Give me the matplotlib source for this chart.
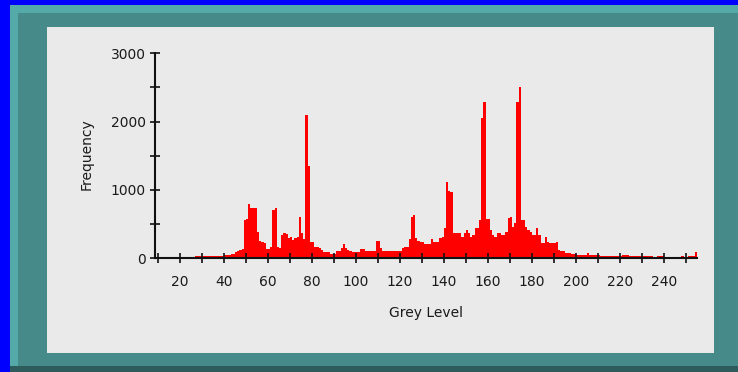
import matplotlib
matplotlib.use("Agg")
import matplotlib.pyplot as plt
from matplotlib.patches import Rectangle
import numpy as np

# grey levels 26..254 and their pixel counts
levels = np.arange(26, 255)
counts = [
    25, 30, 30, 30, 30, 32, 32, 34, 34, 35,
    36, 38, 40, 40, 42, 45, 55, 60, 62, 95,
    100, 125, 130, 560, 580, 800, 730, 740, 730, 390,
    250, 240, 220, 140, 130, 170, 700, 730, 170, 145,
    340, 365, 360, 300, 310, 270, 300, 310, 610, 365,
    280, 2100, 1350, 245, 240, 170, 165, 145, 120, 90,
    88, 88, 65, 63, 65, 100, 100, 145, 210, 150,
    120, 100, 88, 88, 88, 90, 137, 130, 100, 100,
    100, 100, 110, 260, 260, 145, 112, 112, 112, 112,
    112, 112, 112, 112, 112, 145, 170, 170, 280, 600,
    630, 290, 260, 235, 235, 205, 205, 205, 280, 245,
    245, 245, 300, 310, 440, 1120, 980, 970, 365, 365,
    365, 365, 317, 365, 415, 365, 317, 340, 440, 440,
    560, 2050, 2290, 570, 570, 415, 340, 317, 365, 365,
    340, 340, 390, 585, 600, 460, 510, 2290, 2510, 560,
    560, 460, 415, 380, 340, 340, 440, 340, 220, 220,
    317, 245, 220, 220, 220, 245, 122, 100, 100, 73,
    73, 73, 63, 63, 49, 49, 49, 49, 49, 73,
    44, 44, 44, 44, 44, 40, 40, 40, 40, 40,
    40, 40, 40, 40, 40, 55, 55, 55, 35, 35,
    35, 35, 35, 35, 35, 35, 35, 35, 35, 0,
    0, 30, 30, 30, 0, 0, 0, 0, 25, 0,
    0, 0, 30, 0, 0, 30, 30, 30, 85,
]
x_major = [20, 40, 60, 80, 100, 120, 140, 160, 180, 200, 220, 240]
x_minor = [10, 30, 50, 70, 90, 110, 130, 150, 170, 190, 210, 230, 250]
y_major = [0, 1000, 2000, 3000]
y_minor = [500, 1500, 2500]

W, H = 738, 372
fig = plt.figure(figsize=(W / 100, H / 100), dpi=100, facecolor="#0000FF")

def px_rect(x0, y0, x1, y1, color):
    # rectangle given in pixel coords (top-left origin)
    fig.add_artist(Rectangle((x0 / W, 1 - y1 / H), (x1 - x0) / W, (y1 - y0) / H,
                             transform=fig.transFigure, facecolor=color,
                             edgecolor="none", zorder=0))

# frame
px_rect(10, 5, 738, 372, "#54A9A9")
px_rect(18, 13, 738, 366, "#468A8A")
px_rect(10, 366, 738, 372, "#2E5C5C")
px_rect(47, 27, 714, 353, "#EAEAEA")

ax = fig.add_axes([155 / W, 1 - 258.3 / H, (696.7 - 155) / W, (258.3 - 53.3) / H])
ax.patch.set_visible(False)
ax.bar(levels, counts, width=1, align="edge", color="#FF0000", linewidth=0)

ax.set_xlim(8.6, 255)
ax.set_ylim(0, 3000)
ax.set_xticks(x_major)
ax.set_xticks(x_minor, minor=True)
ax.set_yticks(y_major)
ax.set_yticks(y_minor, minor=True)

for s in ["top", "right"]:
    ax.spines[s].set_visible(False)
for s in ["left", "bottom"]:
    ax.spines[s].set_linewidth(1.5)
    ax.spines[s].set_color("#111111")

ax.tick_params(which="both", direction="inout", length=6.5, width=1.2, color="#111111",
               labelsize=10, labelcolor="#1a1a1a")
ax.tick_params(axis="x", which="major", pad=8.5)
ax.tick_params(axis="y", which="major", pad=3.5)

fig.text(87 / W, 1 - 154 / H, "Frequency", rotation=90, ha="center", va="center",
         fontsize=10, color="#1a1a1a")
fig.text(426 / W, 1 - 313 / H, "Grey Level", ha="center", va="center",
         fontsize=10, color="#1a1a1a")

fig.savefig("out.png", dpi=100, facecolor=fig.get_facecolor())
